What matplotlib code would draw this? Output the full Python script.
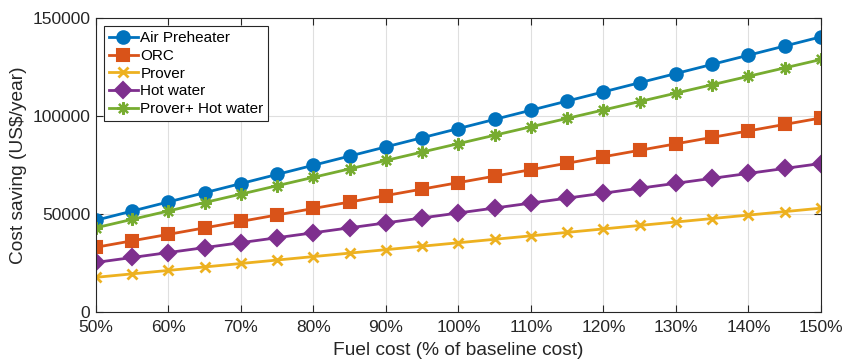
import numpy as np
from matplotlib import pyplot as plt

plt.rcParams["font.family"] = ["Liberation Sans", "DejaVu Sans"]

fuel_cost = [50, 55, 60, 65, 70, 75, 80, 85, 90, 95, 100,
             105, 110, 115, 120, 125, 130, 135, 140, 145, 150]

air_preheater = [46800, 51480, 56160, 60840, 65520, 70200, 74880, 79560, 84240, 88920, 93600,
                 98280, 102960, 107640, 112320, 117000, 121680, 126360, 131040, 135720, 140400]
orc = [33000, 36300, 39600, 42900, 46200, 49500, 52800, 56100, 59400, 62700, 66000,
       69300, 72600, 75900, 79200, 82500, 85800, 89100, 92400, 95700, 99000]
prover = [17650, 19420, 21180, 22950, 24710, 26480, 28240, 30010, 31770, 33540, 35300,
          37070, 38830, 40600, 42360, 44130, 45890, 47660, 49420, 51190, 52950]
hot_water = [25250, 27780, 30300, 32830, 35350, 37880, 40400, 42930, 45450, 47980, 50500,
             53030, 55550, 58080, 60600, 63130, 65650, 68180, 70700, 73230, 75750]
prover_hot_water = [42950, 47250, 51540, 55840, 60130, 64430, 68720, 73020, 77310, 81610, 85900,
                    90200, 94490, 98790, 103080, 107380, 111670, 115970, 120260, 124560, 128850]

# (label, values, colour, marker, marker size, marker edge width)
series = [
    ("Air Preheater", air_preheater, "#0072BD", "o", 9, 1.5),
    ("ORC", orc, "#D95319", "s", 8, 1.5),
    ("Prover", prover, "#EDB120", "x", 7, 2),
    ("Hot water", hot_water, "#7E2F8E", "D", 8, 1.5),
    ("Prover+ Hot water", prover_hot_water, "#77AC30", (8, 2, 0), 9, 1.6),
]

fig = plt.figure(figsize=(8.42, 3.61), dpi=100)
ax = fig.add_axes([0.114, 0.136, 0.861, 0.814])

for name, vals, color, marker, ms, mew in series:
    ax.plot(fuel_cost, vals, color=color, marker=marker, markersize=ms,
            markeredgewidth=mew, linewidth=2, label=name)

ax.set_xlim(50, 150)
ax.set_ylim(0, 150000)
ax.set_xticks(np.arange(50, 151, 10))
ax.set_xticklabels([f"{v}%" for v in range(50, 151, 10)])
ax.set_yticks([0, 50000, 100000, 150000])
ax.set_yticklabels(["0", "50000", "100000", "150000"])
ax.tick_params(direction="in", top=True, right=True, labelsize=12.5, length=5,
               width=0.8, colors="#262626")
ax.tick_params(axis="x", pad=6)
ax.tick_params(axis="y", pad=4)
ax.grid(True, color="#dfdfdf", linewidth=0.8)
ax.set_axisbelow(True)
for s in ax.spines.values():
    s.set_color("#262626")
    s.set_linewidth(0.8)

ax.set_xlabel("Fuel cost (% of baseline cost)", fontsize=13.8, color="#262626", labelpad=5)
ax.set_ylabel("Cost saving (US$/year)", fontsize=13.8, color="#262626", labelpad=4)

leg = ax.legend(loc="upper left", fontsize=11, fancybox=False, framealpha=1,
                edgecolor="#262626", borderpad=0.3, labelspacing=0.25,
                handlelength=1.9, handletextpad=0.15, borderaxespad=0.55)
leg.get_frame().set_linewidth(0.8)

fig.savefig("out.png", dpi=100)
